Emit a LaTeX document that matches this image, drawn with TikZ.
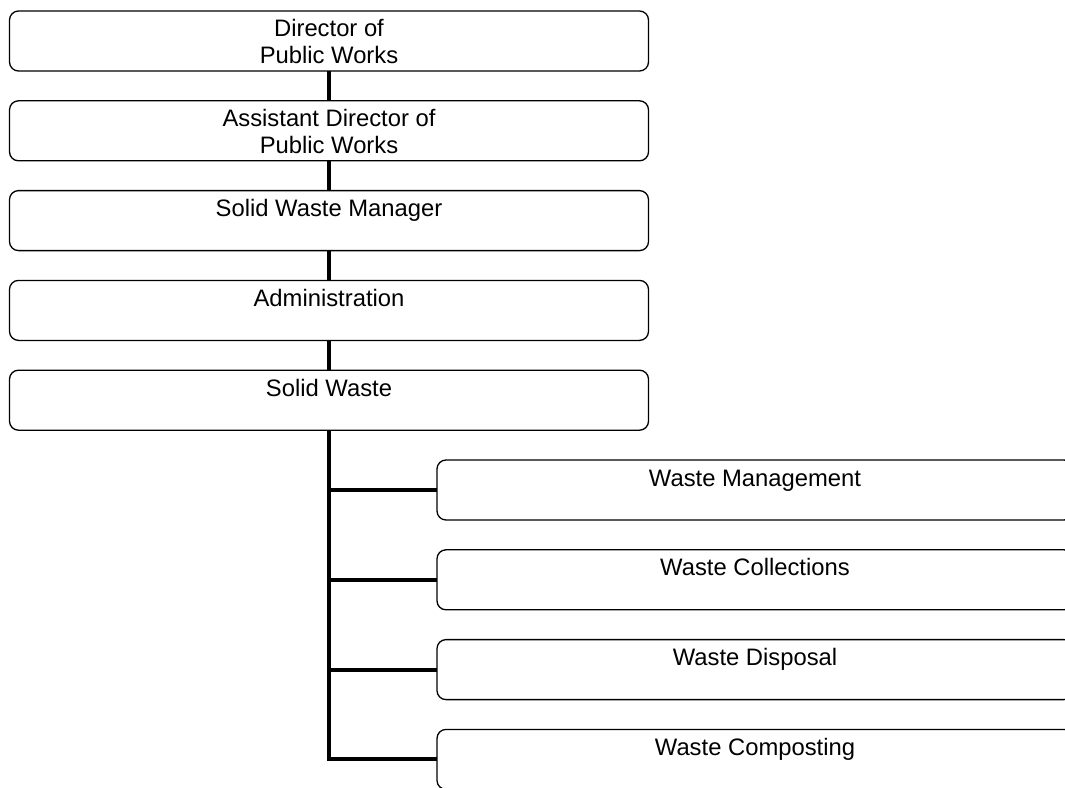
\documentclass[tikz,border=0pt]{standalone}
\usepackage{fontspec}
\setmainfont{Liberation Sans}
\usetikzlibrary{positioning}

\begin{document}
\begin{tikzpicture}[
        node distance=14.9pt,
        every node/.style={font=\fontsize{11.9pt}{13.35pt}\selectfont},
        box/.style={draw,rounded corners=4.5pt,line width=0.65pt,align=center,inner xsep=0pt,inner ysep=0pt,outer sep=0pt,minimum width=319.5pt,minimum height=30pt,text height=13pt,text depth=17pt},
        boxtwo/.style={box,text height=26.15pt,text depth=3.85pt},
        subbox/.style={box,minimum width=318pt},
        link/.style={line width=2pt}
      ]
      \useasboundingbox (0,0) rectangle (532.5pt,-393.5pt);
      \clip (0,0) rectangle (532.5pt,-393.5pt);

      \node[boxtwo,anchor=north west] (dir) at (4.75pt,-5.5pt) {Director of\\Public Works};
      \node[boxtwo,below=of dir] (adir) {Assistant Director of\\Public Works};
      \node[box,below=of adir] (swm) {Solid Waste Manager};
      \node[box,below=of swm] (admin) {Administration};
      \node[box,below=of admin] (sw) {Solid Waste};

      \node[subbox,below right=14.9pt and 213.75pt of sw.south west] (mgmt) {Waste Management};
      \node[subbox,below=of mgmt] (coll) {Waste Collections};
      \node[subbox,below=of coll] (disp) {Waste Disposal};
      \node[subbox,below=of disp] (comp) {Waste Composting};

      \draw[link] (dir.south) -- (adir.north);
      \draw[link] (adir.south) -- (swm.north);
      \draw[link] (swm.south) -- (admin.north);
      \draw[link] (admin.south) -- (sw.north);

      \draw[link] (sw.south) |- (mgmt.west);
      \draw[link] (sw.south) |- (coll.west);
      \draw[link] (sw.south) |- (disp.west);
      \draw[link] (sw.south) |- (comp.west);
    \end{tikzpicture}
\end{document}
